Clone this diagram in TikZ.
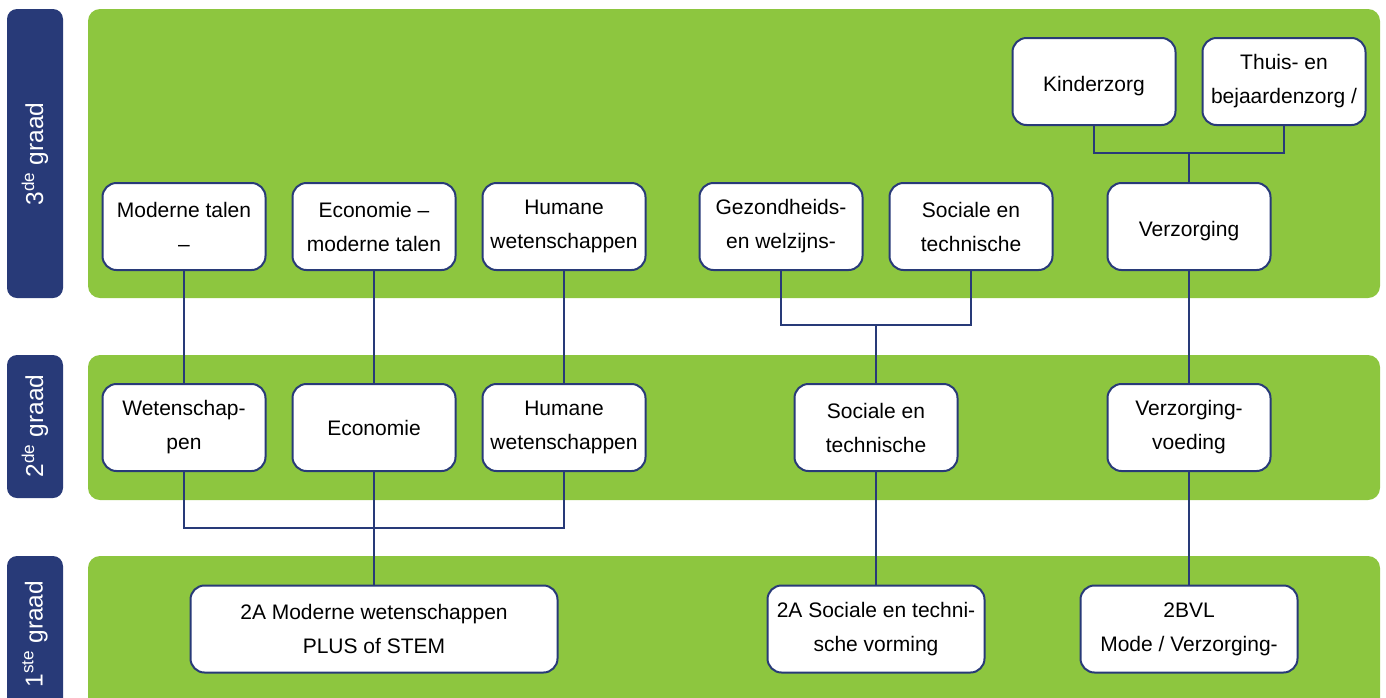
\documentclass[tikz,border=0pt]{standalone}
\usepackage{fontspec}
\setmainfont{Liberation Sans}
\usetikzlibrary{positioning,calc}
\definecolor{vvgreen}{HTML}{8DC63F}
\definecolor{vvblue}{HTML}{283A78}

\begin{document}
\begin{tikzpicture}[x=1pt,y=-1pt,
  graad/.style={fill=vvblue, rounded corners=10pt},
  paneel/.style={fill=vvgreen, rounded corners=12pt},
  graadtekst/.style={rotate=90, text=white, font=\fontsize{24.5}{27}\selectfont},
  richting/.style={draw=vvblue, line width=2pt, fill=white, rounded corners=14pt,
    minimum width=163pt, minimum height=87pt, inner sep=2pt, align=center,
    font=\fontsize{21}{34}\selectfont},
  enkel/.style={text height=25pt, text depth=5pt},
  lijn/.style={draw=vvblue, line width=2pt}]
\useasboundingbox (0,0) rectangle (1386,697);
\clip (0,0) rectangle (1386,697);

% graden
\fill[graad] (7,9) rectangle (63,298);
\fill[graad] (7,355) rectangle (63,498);
\fill[graad] (7,556) rectangle (63,712);
\fill[paneel] (88,9) rectangle (1380,298);
\fill[paneel] (88,355) rectangle (1380,500);
\fill[paneel] (88,556) rectangle (1380,712);
\node[graadtekst] (g3) at (35,154) {3\textsuperscript{de} graad};
\node[graadtekst] (g2) at (35,426) {2\textsuperscript{de} graad};
\node[graadtekst] (g1) at (35,634) {1\textsuperscript{ste} graad};

% 3de graad
\node[richting, enkel] (kind) at (1094,81.5) {Kinderzorg};
\node[richting] (thuis) at (1284,81.5) {Thuis- en\\bejaardenzorg /};
\node[richting] (mod3) at (184,226.5) {Moderne talen\\--};
\node[richting] (eco3) at (374,226.5) {Economie --\\moderne talen};
\node[richting] (hum3) at (564,226.5) {Humane\\wetenschappen};
\node[richting] (gez3) at (781,226.5) {Gezondheids-\\en welzijns-};
\node[richting] (soc3) at (971,226.5) {Sociale en\\technische};
\node[richting, enkel] (ver3) at (1189,226.5) {Verzorging};

% 2de graad
\node[richting] (wet2) at (184,427.5) {Wetenschap-\\pen};
\node[richting, enkel, text height=21pt] (eco2) at (374,427.5) {Economie};
\node[richting] (hum2) at (564,427.5) {Humane\\wetenschappen};
\node[richting] (soc2) at (876,427.5) {Sociale en\\technische};
\node[richting] (vv2) at (1189,427.5) {Verzorging-\\voeding};

% 1ste graad
\node[richting, minimum width=367pt] (mw1) at (374,629) {2A Moderne wetenschappen\\PLUS of STEM};
\node[richting, minimum width=217pt] (st1) at (876,629) {2A Sociale en techni-\\sche vorming};
\node[richting, minimum width=217pt] (bvl1) at (1189,629) {2BVL\\Mode / Verzorging-};

\coordinate (jver) at (1189,153);
\coordinate (jsoc) at (876,325);
\coordinate (jmw) at (374,528);

\draw[lijn] (kind.south) |- (jver) -| (thuis.south);
\draw[lijn] (jver) -- (ver3.north);
\draw[lijn] (mod3) -- (wet2);
\draw[lijn] (eco3) -- (eco2);
\draw[lijn] (hum3) -- (hum2);
\draw[lijn] (gez3.south) |- (jsoc) -| (soc3.south);
\draw[lijn] (jsoc) -- (soc2.north);
\draw[lijn] (ver3) -- (vv2);
\draw[lijn] (wet2.south) |- (jmw) -| (hum2.south);
\draw[lijn] (eco2) -- (mw1);
\draw[lijn] (soc2) -- (st1);
\draw[lijn] (vv2) -- (bvl1);
\end{tikzpicture}
\end{document}
